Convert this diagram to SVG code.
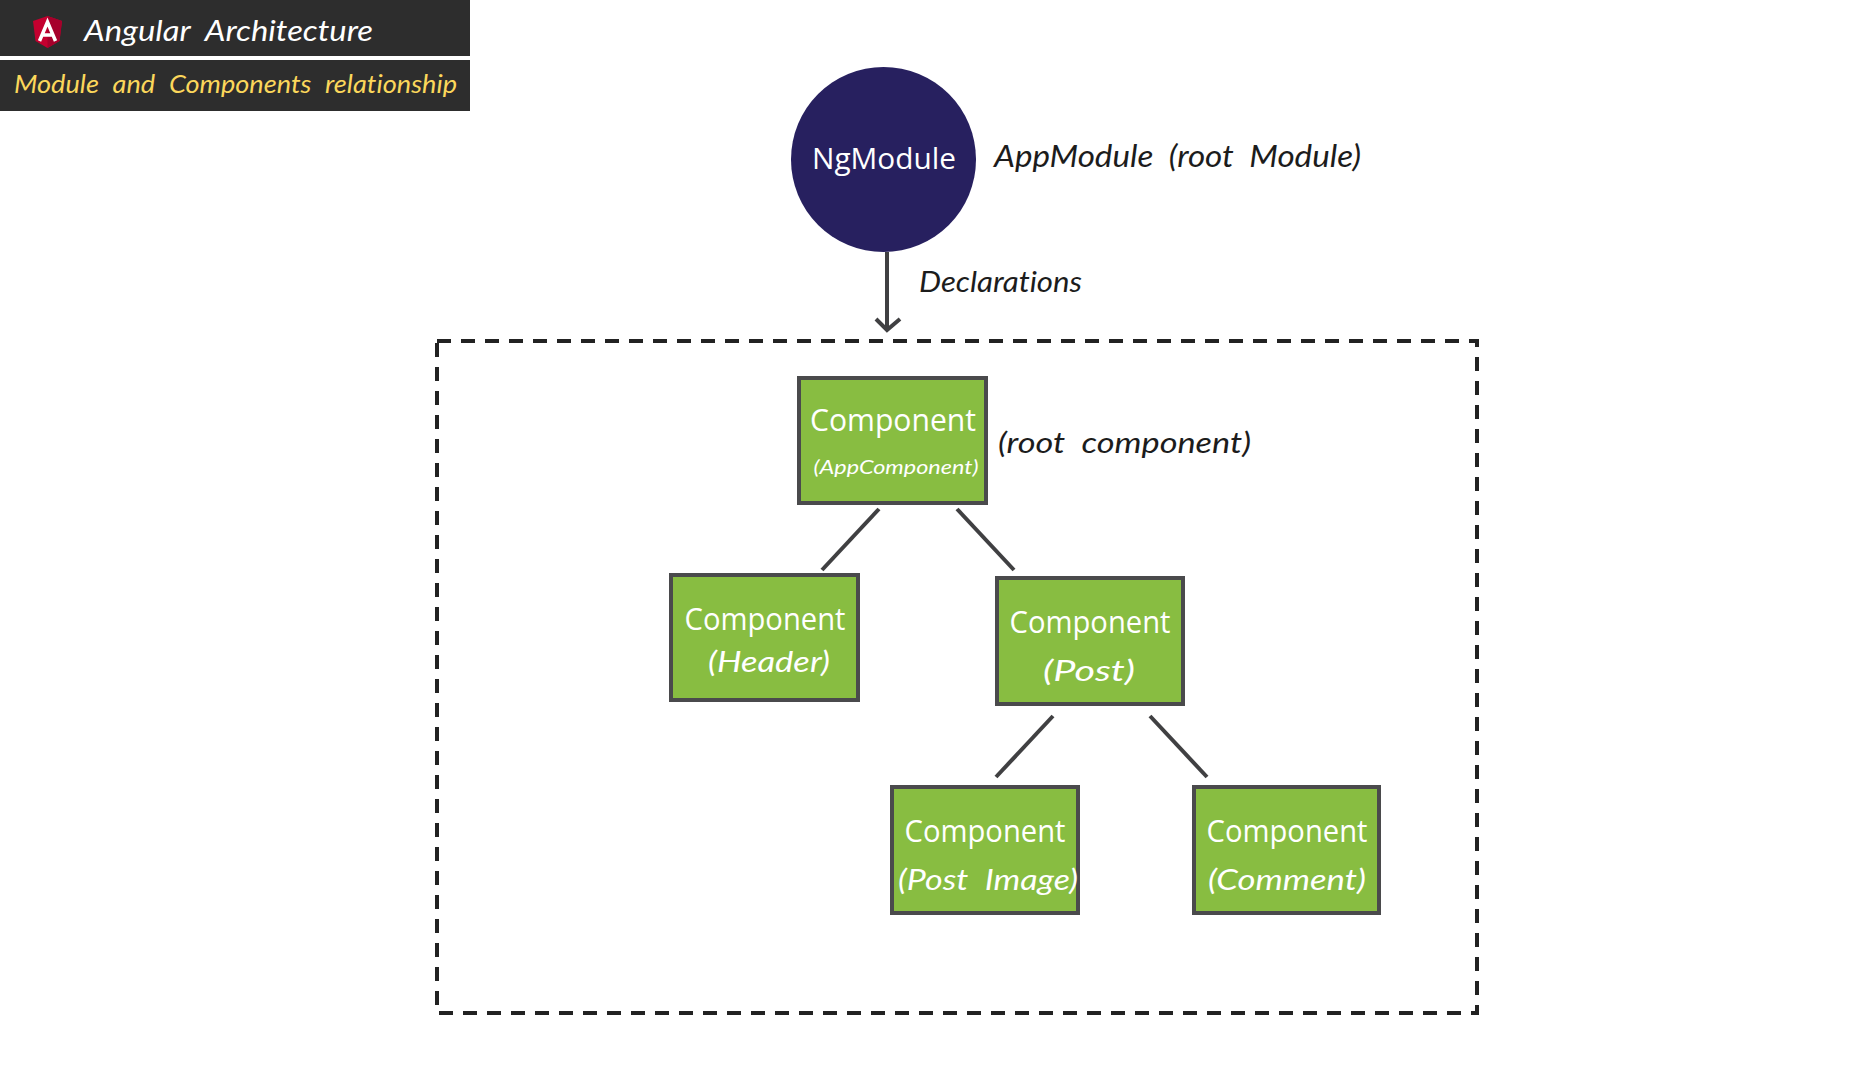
<svg xmlns="http://www.w3.org/2000/svg" width="1872" height="1080" viewBox="0 0 1872 1080">
<style>
.bar{fill:#2d2d2d}
.hand{font-family:"Lato","Open Sans",sans-serif;font-style:italic;word-spacing:7px;font-variant-ligatures:none}
.ui{font-family:"Open Sans","Noto Sans",sans-serif;fill:#fff;text-anchor:middle}
.box{fill:#88bd41;stroke:#4a4a4c;stroke-width:4}
.link{stroke:#404042;stroke-width:4;fill:none}
.w{fill:#fff;text-anchor:middle}
.k{fill:#1c1c1c}
</style>
<rect width="1872" height="1080" fill="#fff"/>
<g id="title">
<rect class="bar" x="0" y="0" width="470" height="56"/>
<rect class="bar" x="0" y="60" width="470" height="51"/>
<polygon points="47.500,16 33,21 35.500,41 47.500,48 59.500,41 62,21" fill="#c3002f"/>
<polygon points="47.500,16 47.500,48 59.500,41 62,21" fill="#a6002b"/>
<path d="M39.500 41 L47.500 22 L55.500 41 M42.500 35 H52.500" fill="none" stroke="#fff" stroke-width="3.500"/>
<text class="hand" x="84" y="41" font-size="29" fill="#fff" textLength="289" lengthAdjust="spacingAndGlyphs">Angular Architecture</text>
<text class="hand" x="14" y="93" font-size="26" fill="#fbd75b" textLength="443" lengthAdjust="spacingAndGlyphs">Module and Components relationship</text>
</g>
<g id="connectors">
<line class="link" x1="887" y1="252" x2="887" y2="329"/>
<path class="link" d="M876 319 L887 330 L900 319"/>
<line class="link" x1="879" y1="509" x2="822" y2="570"/>
<line class="link" x1="957" y1="509" x2="1014" y2="570"/>
<line class="link" x1="1053" y1="716" x2="996" y2="777"/>
<line class="link" x1="1150" y1="716" x2="1207" y2="777"/>
</g>
<g id="boundary">
<rect x="437" y="341" width="1040" height="672" fill="none" stroke="#222" stroke-width="4" stroke-dasharray="14 10"/>
</g>
<g id="ngmodule">
<circle cx="883.500" cy="159.500" r="92.500" fill="#27205f"/>
<text class="ui" x="884" y="169" font-size="29" textLength="144" lengthAdjust="spacingAndGlyphs">NgModule</text>
<text class="hand k" x="994" y="167" font-size="30" textLength="367" lengthAdjust="spacingAndGlyphs">AppModule (root Module)</text>
</g>
<g id="declarations">
<text class="hand k" x="919" y="292" font-size="28" textLength="163" lengthAdjust="spacingAndGlyphs">Declarations</text>
</g>
<g id="root-component">
<rect class="box" x="799" y="378" width="187" height="125"/>
<text class="ui" x="893" y="431" font-size="31" textLength="166" lengthAdjust="spacingAndGlyphs">Component</text>
<text class="hand w" x="896" y="474" font-size="20" textLength="165" lengthAdjust="spacingAndGlyphs">(AppComponent)</text>
<text class="hand k" x="998" y="453" font-size="29" textLength="253" lengthAdjust="spacingAndGlyphs">(root component)</text>
</g>
<g id="header-component">
<rect class="box" x="671" y="575" width="187" height="125"/>
<text class="ui" x="765" y="630" font-size="31" textLength="161" lengthAdjust="spacingAndGlyphs">Component</text>
<text class="hand w" x="769" y="672" font-size="28" textLength="122" lengthAdjust="spacingAndGlyphs">(Header)</text>
</g>
<g id="post-component">
<rect class="box" x="997" y="578" width="186" height="126"/>
<text class="ui" x="1090" y="633" font-size="31" textLength="161" lengthAdjust="spacingAndGlyphs">Component</text>
<text class="hand w" x="1089" y="681" font-size="28" textLength="92" lengthAdjust="spacingAndGlyphs">(Post)</text>
</g>
<g id="post-image-component">
<rect class="box" x="892" y="787" width="186" height="126"/>
<text class="ui" x="985" y="842" font-size="31" textLength="161" lengthAdjust="spacingAndGlyphs">Component</text>
<text class="hand w" x="988" y="890" font-size="28" textLength="180" lengthAdjust="spacingAndGlyphs">(Post Image)</text>
</g>
<g id="comment-component">
<rect class="box" x="1194" y="787" width="185" height="126"/>
<text class="ui" x="1287" y="842" font-size="31" textLength="161" lengthAdjust="spacingAndGlyphs">Component</text>
<text class="hand w" x="1287" y="890" font-size="28" textLength="158" lengthAdjust="spacingAndGlyphs">(Comment)</text>
</g>
</svg>
